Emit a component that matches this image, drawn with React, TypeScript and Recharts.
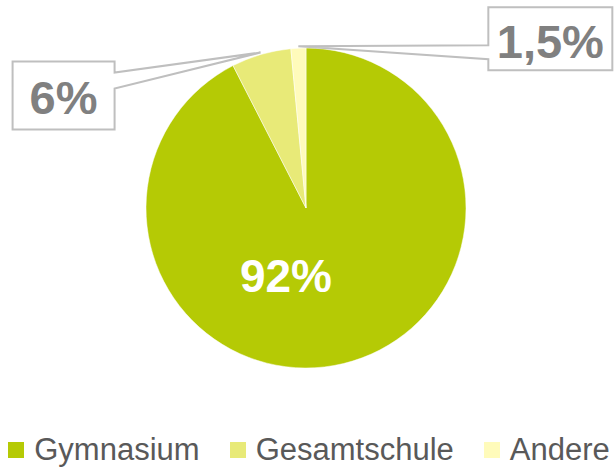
import React from "react";
import { PieChart, Pie, Cell, Legend } from "recharts";

const categories = ["Gymnasium", "Gesamtschule", "Andere"];
const values = [92, 6, 1.5];
const labels = ["92%", "6%", "1,5%"];
const colors = ["#B5CA05", "#E8EA78", "#FFFBBB"];

const data = categories.map((name, i) => ({ name, value: values[i], label: labels[i] }));

const FONT = "'Liberation Sans', Arial, Helvetica, sans-serif";
const RAD = Math.PI / 180;

const renderLabel = (props: any) => {
  const { cx, cy, midAngle, outerRadius, index } = props;
  const text = labels[index];
  if (index === 0) {
    return (
      <text
        x={cx - 20}
        y={cy + 84}
        textAnchor="middle"
        fill="#FFFFFF"
        fontFamily={FONT}
        fontWeight="bold"
        fontSize={46}
      >
        {text}
      </text>
    );
  }
  const ax = cx + (outerRadius + 2) * Math.cos(-midAngle * RAD);
  const ay = cy + (outerRadius + 2) * Math.sin(-midAngle * RAD);
  if (index === 1) {
    const left = ax - 248;
    const top = ay + 9;
    const w = 102;
    const h = 68;
    const right = left + w;
    const bottom = top + h;
    const d = `M${left},${top} H${right} V${top + 11} L${ax},${ay} L${right},${top + 27} V${bottom} H${left} Z`;
    return (
      <g>
        <path d={d} fill="#FFFFFF" stroke="#BFBFBF" strokeWidth={2} />
        <text
          x={left + w / 2}
          y={top + 53}
          textAnchor="middle"
          fill="#808080"
          fontFamily={FONT}
          fontWeight="bold"
          fontSize={47}
        >
          {text}
        </text>
      </g>
    );
  }
  const left = ax + 190;
  const top = ay - 39;
  const w = 124;
  const h = 63;
  const right = left + w;
  const bottom = top + h;
  const d = `M${left},${top} H${right} V${bottom} H${left} V${top + 52} L${ax},${ay} L${left},${top + 38} Z`;
  return (
    <g>
      <path d={d} fill="#FFFFFF" stroke="#BFBFBF" strokeWidth={2} />
      <text
        x={left + w / 2}
        y={top + 51}
        textAnchor="middle"
        fill="#808080"
        fontFamily={FONT}
        fontWeight="bold"
        fontSize={47}
      >
        {text}
      </text>
    </g>
  );
};

const renderLegend = () => (
  <div
    style={{
      width: 614,
      height: 40,
      display: "flex",
      alignItems: "center",
      justifyContent: "center",
      fontFamily: FONT,
      fontSize: 31,
      color: "#595959",
      paddingLeft: 4,
      boxSizing: "border-box",
    }}
  >
    {categories.map((c, i) => (
      <div
        key={c}
        style={{
          display: "flex",
          alignItems: "center",
          marginRight: i < categories.length - 1 ? 30 : 0,
        }}
      >
        <span
          style={{
            display: "inline-block",
            width: 16,
            height: 16,
            background: colors[i],
            marginRight: 10,
          }}
        />
        <span style={{ lineHeight: "36px" }}>{c}</span>
      </div>
    ))}
  </div>
);

export default function App() {
  return (
    <div style={{ position: "absolute", left: 0, top: 0, background: "#fff" }}>
      <PieChart width={614} height={470} margin={{ top: 0, right: 0, bottom: 0, left: 0 }}>
        <Pie
          data={data}
          dataKey="value"
          nameKey="name"
          cx={306}
          cy={208}
          outerRadius={160}
          startAngle={90}
          endAngle={-270}
          stroke="#FFFFFF"
          strokeWidth={0.5}
          label={renderLabel}
          labelLine={false}
          isAnimationActive={false}
        >
          {data.map((d, i) => (
            <Cell key={d.name} fill={colors[i]} />
          ))}
        </Pie>
        <Legend verticalAlign="bottom" content={renderLegend} wrapperStyle={{ left: 0, bottom: 0 }} />
      </PieChart>
    </div>
  );
}
